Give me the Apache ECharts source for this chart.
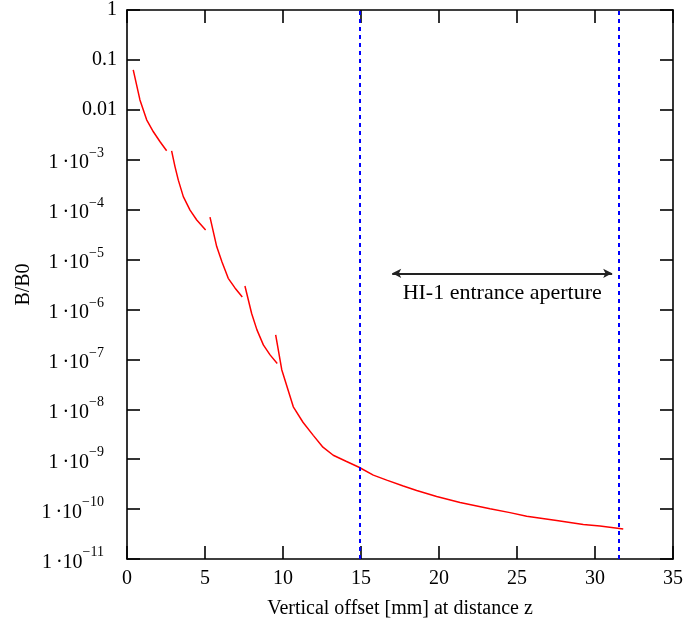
<!DOCTYPE html>
<html>
<head>
<meta charset="utf-8">
<script src="https://cdn.jsdelivr.net/npm/echarts@6/dist/echarts.min.js"></script>
<style>
html,body{margin:0;padding:0;background:#fff;}
#c{width:691px;height:620px;}
</style>
</head>
<body>
<div id="c"></div>
<script>
// ---- data (x in mm, y = B/B0) ----
var seg1X = [0.40, 0.83, 1.26, 1.69, 2.12, 2.54];
var seg1Y = [0.063, 0.0158, 0.0063, 0.00363, 0.00229, 0.00151];
var seg2X = [2.86, 3.08, 3.29, 3.61, 4.04, 4.47, 5.04];
var seg2Y = [1.51e-3, 7.2e-4, 3.9e-4, 1.82e-4, 9.8e-5, 6.2e-5, 3.9e-5];
var seg3X = [5.32, 5.75, 6.09, 6.49, 6.92, 7.39];
var seg3Y = [7.1e-5, 1.82e-5, 8.9e-6, 4.2e-6, 2.7e-6, 1.78e-6];
var seg4X = [7.56, 7.99, 8.33, 8.74, 9.17, 9.63];
var seg4Y = [2.95e-6, 8.3e-7, 3.9e-7, 1.95e-7, 1.23e-7, 8.3e-8];
var seg5X = [9.53, 9.92, 10.66, 11.28, 11.94, 12.56, 13.22, 14.04, 14.87, 15.79, 16.65, 17.71, 18.57, 19.85, 21.35, 23.27, 24.55, 25.62, 27.54, 29.25, 30.32, 31.81];
var seg5Y = [3.1e-7, 6.2e-8, 1.12e-8, 5.5e-9, 3.0e-9, 1.74e-9, 1.2e-9, 9.1e-10, 6.9e-10, 4.8e-10, 3.8e-10, 2.9e-10, 2.35e-10, 1.78e-10, 1.35e-10, 1.02e-10, 8.5e-11, 7.2e-11, 5.9e-11, 4.9e-11, 4.6e-11, 4.0e-11];

var apertureX = [14.9, 31.55];          // dashed vertical lines
var arrowX = [17.0, 31.1];               // double arrow extent
var arrowY = 5.3e-6;                     // arrow height
var annotationText = 'HI-1 entrance aperture';

var xMin = 0, xMax = 35, xStep = 5;
var yMin = 1e-11, yMax = 1;
var xTitle = 'Vertical offset [mm] at distance z';
var yTitle = 'B/B0';

// ---- build ----
function pairs(xs, ys){ return xs.map(function(x,i){ return [x, ys[i]]; }); }
var FONT = 'Liberation Serif';

function yFmt(v){
  var e = Math.round(Math.log(v)/Math.LN10);
  if (e === 0) return '1';
  if (e === -1) return '0.1';
  if (e === -2) return '0.01';
  return '{b|1\u2009\u00B710}{s|\u2212' + (-e) + '}{g| }';
}

var segs = [pairs(seg1X,seg1Y), pairs(seg2X,seg2Y), pairs(seg3X,seg3Y), pairs(seg4X,seg4Y), pairs(seg5X,seg5Y)];
var series = segs.map(function(d){
  return {
    type: 'line', data: d, showSymbol: false, symbol: 'none', smooth: false,
    lineStyle: { color: '#ff0000', width: 1.5 }, itemStyle: {color:'#ff0000'},
    silent: true, z: 3
  };
});

series.push({
  type: 'line', data: [], symbol: 'none', silent: true,
  markLine: {
    silent: true, symbol: ['none','none'], animation: false,
    label: { show: false },
    lineStyle: { color: '#0000ff', width: 2, type: [4,4] },
    data: apertureX.map(function(x){ return { xAxis: x }; })
  }
});
series.push({
  type: 'line', data: [], symbol: 'none', silent: true,
  markLine: {
    silent: true, symbol: ['arrow','arrow'], symbolSize: [7, 9], animation: false,
    lineStyle: { color: '#222', width: 2, type: 'solid' },
    label: {
      show: true, position: 'insideMiddleBottom', distance: 9,
      formatter: annotationText, color: '#000',
      fontFamily: FONT, fontSize: 22
    },
    data: [[ { coord: [arrowX[0], arrowY] }, { coord: [arrowX[1], arrowY] } ]]
  }
});

function axLine(){ return { show: true, onZero: false, lineStyle: { color: '#000', width: 1.6 } }; }
function ticks(){ return { show: true, inside: true, length: 13, lineStyle: { color: '#000', width: 1.6 } }; }

var option = {
  backgroundColor: '#fff',
  animation: false,
  grid: { left: 127, right: 18, top: 10, bottom: 61, containLabel: false, outerBoundsMode: 'none' },
  xAxis: [{
    type: 'value', min: xMin, max: xMax, interval: xStep, position: 'bottom',
    name: xTitle, nameLocation: 'middle', nameGap: 40, nameMoveOverlap: false,
    nameTextStyle: { fontFamily: FONT, fontSize: 20, color: '#000' },
    axisLine: axLine(),
    axisTick: ticks(),
    axisLabel: { fontFamily: FONT, fontSize: 20, color: '#000', margin: 10 },
    splitLine: { show: false }
  },{
    type: 'value', min: xMin, max: xMax, interval: xStep, position: 'top',
    axisLine: axLine(),
    axisTick: ticks(),
    axisLabel: { show: false },
    splitLine: { show: false }
  }],
  yAxis: [{
    type: 'log', logBase: 10, min: yMin, max: yMax, interval: 1, position: 'left',
    name: yTitle, nameLocation: 'middle', nameGap: 93, nameMoveOverlap: false,
    nameTextStyle: { fontFamily: FONT, fontSize: 20, color: '#000' },
    axisLine: axLine(),
    axisTick: ticks(),
    axisLabel: {
      fontFamily: FONT, fontSize: 20, color: '#000', margin: 10,
      formatter: yFmt,
      rich: {
        b: { fontFamily: FONT, fontSize: 20, lineHeight: 20, color: '#000', padding: [7,0,0,0] },
        s: { fontFamily: FONT, fontSize: 14, lineHeight: 14, color: '#000', padding: [0,0,13,0] },
        g: { fontFamily: FONT, fontSize: 14, width: 13 }
      }
    },
    splitLine: { show: false },
    minorTick: { show: false }
  },{
    type: 'log', logBase: 10, min: yMin, max: yMax, interval: 1, position: 'right',
    axisLine: axLine(),
    axisTick: ticks(),
    axisLabel: { show: false },
    splitLine: { show: false }
  }],
  series: series
};

var chart = echarts.init(document.getElementById('c'), null, { renderer: 'canvas' });
chart.setOption(option);
</script>
</body>
</html>
